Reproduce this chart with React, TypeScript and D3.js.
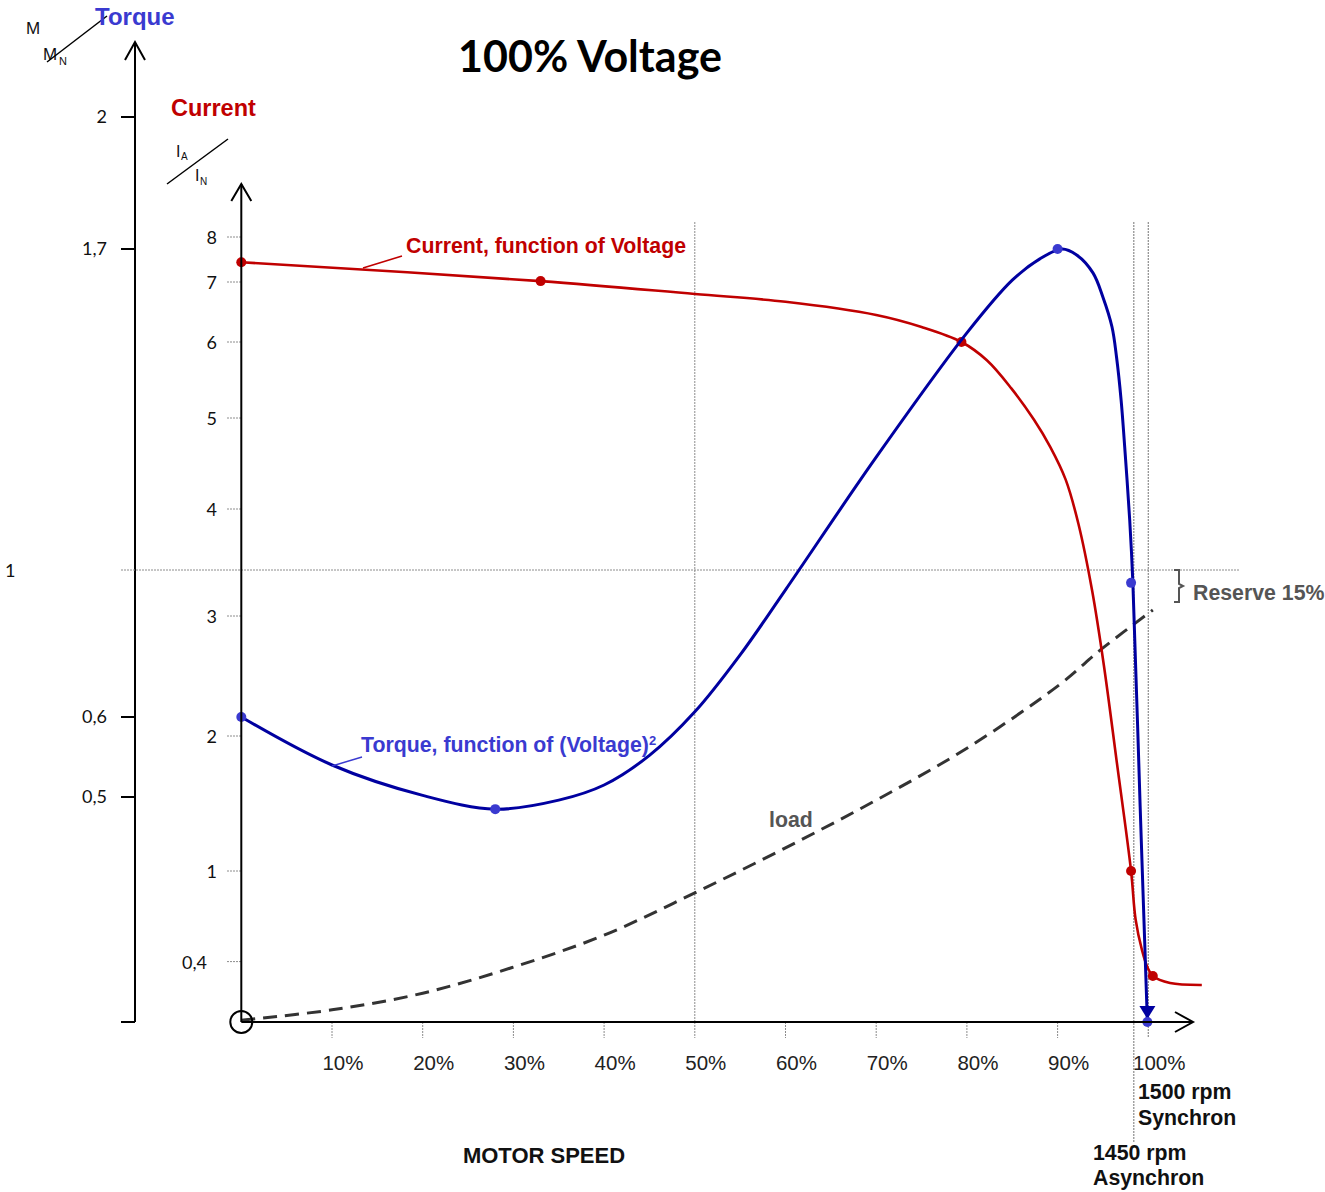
import React from "react";
import * as d3 from "d3";

// ---------- data ----------
const speedTicks = [10, 20, 30, 40, 50, 60, 70, 80, 90, 100];
const currentTicks = [0.4, 1, 2, 3, 4, 5, 6, 7, 8];
const currentTickLabels = ["0,4", "1", "2", "3", "4", "5", "6", "7", "8"];
const torqueTickValues = [0, 0.5, 0.6, 1.7, 2];
const torqueTickLabels = ["", "0,5", "0,6", "1,7", "2"];
const ratedTorque = 1;

const torqueSpeed = [0, 10, 20, 28, 35, 40, 45, 50, 55, 60, 70, 80, 85, 88, 90.5, 92.1, 93.9, 95.0, 96.0, 96.5, 97.0, 97.5, 97.95, 98.3, 99.1, 99.9];
const torqueValue = [0.6, 0.54, 0.502, 0.473, 0.493, 0.515, 0.552, 0.614, 0.769, 0.946, 1.246, 1.517, 1.632, 1.678, 1.7, 1.687, 1.648, 1.595, 1.53, 1.464, 1.371, 1.24, 1.109, 0.965, 0.48, 0];
const torqueDotSpeed = [0, 28, 90, 98.1, 99.9];
const torqueDotValue = [0.6, 0.473, 1.7, 0.965, 0];

const currentSpeed = [0, 33, 50, 60, 70, 75, 79.4, 82.2, 84.9, 87.4, 89.2, 90.9, 92.3, 93.8, 95.1, 96.5, 98.1, 98.6, 99.3, 99.9, 100.5, 102.4, 105.9];
const currentValue = [7.44, 7.02, 6.8, 6.67, 6.45, 6.25, 6.0, 5.76, 5.39, 4.98, 4.68, 4.32, 3.86, 3.24, 2.59, 1.82, 1.0, 0.68, 0.477, 0.364, 0.305, 0.258, 0.245];
const currentDotSpeed = [0, 33, 79.4, 98.1, 100.5];
const currentDotValue = [7.44, 7.02, 6.0, 1.0, 0.305];

const loadSpeed = [0, 10, 20, 30, 40, 50, 60, 70, 80, 90, 95, 100.5];
const loadValue = [0.004, 0.027, 0.064, 0.122, 0.193, 0.287, 0.387, 0.493, 0.561, 0.684, 0.788, 0.891];

const midSpeed = 50;
const asyncSpeed = 98.4;
const syncSpeed = 100;

// ---------- styles ----------
const RED = "#c00000";
const BLUE_LINE = "#0000a0";
const BLUE_TXT = "#3a3ad0";
const GRAY_TXT = "#555555";
const GRID = "#8c8c8c";
const NUM_FONT = "Lato, 'Open Sans', sans-serif";
const ARIAL = "'Liberation Sans', Arial, sans-serif";

export default function App() {
  const W = 1325, H = 1192;
  const x = d3.scaleLinear().domain([0, 100]).range([241.3, 1148.3]);
  const yC = d3.scaleLinear()
    .domain([0, 1, 2, 3, 4, 5, 6, 7, 8])
    .range([1022, 871, 736, 616, 509, 418, 342, 282, 237]);
  const yT = d3.scaleLinear()
    .domain([0, 0.5, 0.6, 1, 1.7, 2])
    .range([1022, 797, 717, 570, 249, 117]);

  const torquePts: [number, number][] = torqueSpeed.map((s, i) => [x(s), yT(torqueValue[i])]);
  const currentPts: [number, number][] = currentSpeed.map((s, i) => [x(s), yC(currentValue[i])]);
  const loadPts: [number, number][] = loadSpeed.map((s, i) => [x(s), yT(loadValue[i])]);

  const line = d3.line().curve(d3.curveCatmullRom.alpha(0.5));
  const lineLoad = d3.line().curve(d3.curveCatmullRom);

  const x0 = x(0);
  const yBase = yC(0);
  const outerX = 135;
  const gridTop = 222;

  const endTx = x(torqueSpeed[torqueSpeed.length - 1]);
  const endTy = yT(torqueValue[torqueValue.length - 1]);

  return (
    <svg width={W} height={H} style={{ position: "absolute", left: 0, top: 0, background: "#fff" }}>
      {/* title */}
      <text x={590} y={72} textAnchor="middle" fontFamily={NUM_FONT} fontWeight="bold" fontSize={43} fill="#000">100% Voltage</text>

      {/* outer torque axis header */}
      <text x={26} y={34} fontFamily={ARIAL} fontSize={17} fill="#111">M</text>
      <text x={43} y={60} fontFamily={ARIAL} fontSize={17} fill="#111">M</text>
      <text x={59} y={65} fontFamily={ARIAL} fontSize={11} fill="#111">N</text>
      <line x1={47} y1={62} x2={107} y2={16} stroke="#000" strokeWidth={1.5} />
      <text x={95} y={25} fontFamily={ARIAL} fontWeight="bold" fontSize={24} fill={BLUE_TXT}>Torque</text>

      {/* current axis header */}
      <text x={171} y={116} fontFamily={ARIAL} fontWeight="bold" fontSize={23.5} fill={RED}>Current</text>
      <text x={176} y={157} fontFamily={ARIAL} fontSize={16} fill="#111">I</text>
      <text x={181} y={160} fontFamily={ARIAL} fontSize={10} fill="#111">A</text>
      <text x={195} y={181} fontFamily={ARIAL} fontSize={16} fill="#111">I</text>
      <text x={200} y={185} fontFamily={ARIAL} fontSize={10} fill="#111">N</text>
      <line x1={167} y1={184} x2={228} y2={139} stroke="#000" strokeWidth={1.5} />

      {/* outer torque axis */}
      <line x1={outerX} y1={yT(0)} x2={outerX} y2={42} stroke="#000" strokeWidth={2} />
      <path d={`M${outerX - 10},${60} L${outerX},${42} L${outerX + 10},${60}`} fill="none" stroke="#000" strokeWidth={2} />
      {torqueTickValues.map((v, i) => (
        <g key={"tt" + i}>
          <line x1={121} x2={outerX} y1={yT(v)} y2={yT(v)} stroke="#000" strokeWidth={2} />
          <text x={107} y={yT(v) + 6} textAnchor="end" fontFamily={NUM_FONT} fontSize={18} fill="#111">{torqueTickLabels[i]}</text>
        </g>
      ))}
      <text x={5} y={yT(ratedTorque) + 7} fontFamily={NUM_FONT} fontSize={18} fill="#111">1</text>

      {/* grid lines */}
      <line x1={121} x2={1240} y1={yT(ratedTorque)} y2={yT(ratedTorque)} stroke={GRID} strokeWidth={1} strokeDasharray="2,1" />
      <line x1={x(midSpeed)} x2={x(midSpeed)} y1={gridTop} y2={yBase} stroke={GRID} strokeWidth={1} strokeDasharray="2,1" />
      <line x1={x(asyncSpeed)} x2={x(asyncSpeed)} y1={gridTop} y2={1143} stroke={GRID} strokeWidth={1.2} strokeDasharray="2,1" />
      <line x1={x(syncSpeed)} x2={x(syncSpeed)} y1={gridTop} y2={1038} stroke={GRID} strokeWidth={1.2} strokeDasharray="2,1" />

      {/* current axis ticks */}
      {currentTicks.map((v, i) => (
        <g key={"ct" + i}>
          <line x1={227} x2={x0} y1={yC(v)} y2={yC(v)} stroke={GRID} strokeWidth={1} strokeDasharray="2,1" />
          <text x={v < 1 ? 207 : 217} y={yC(v) + 7} textAnchor="end" fontFamily={NUM_FONT} fontSize={18} fill="#111">{currentTickLabels[i]}</text>
        </g>
      ))}

      {/* speed axis ticks */}
      {speedTicks.map((v) => (
        <g key={"st" + v}>
          {v < 100 && <line x1={x(v)} x2={x(v)} y1={yBase} y2={1038} stroke={GRID} strokeWidth={1} strokeDasharray="2,1" />}
          <text x={x(v) + 11} y={1070} textAnchor="middle" fontFamily={ARIAL} fontSize={20.5} fill="#222">{v}%</text>
        </g>
      ))}

      {/* load curve */}
      <path d={lineLoad(loadPts) || ""} fill="none" stroke="#333" strokeWidth={3} strokeDasharray="14,8" />

      {/* current curve */}
      <path d={line(currentPts) || ""} fill="none" stroke={RED} strokeWidth={2.6} />
      {currentDotSpeed.map((s, i) => (
        <circle key={"cd" + i} cx={x(s)} cy={yC(currentDotValue[i])} r={5} fill={RED} />
      ))}

      {/* torque curve */}
      <path d={line(torquePts) || ""} fill="none" stroke={BLUE_LINE} strokeWidth={3} />
      <path d={`M${endTx - 8},${endTy - 16} L${endTx + 8},${endTy - 16} L${endTx},${endTy - 3} Z`} fill={BLUE_LINE} />
      {torqueDotSpeed.map((s, i) => (
        <circle key={"td" + i} cx={x(s)} cy={yT(torqueDotValue[i])} r={5} fill={BLUE_TXT} />
      ))}

      {/* inner current axis and speed axis */}
      <line x1={x0} y1={yBase} x2={x0} y2={184} stroke="#000" strokeWidth={2} />
      <path d={`M${x0 - 10},${201} L${x0},${184} L${x0 + 10},${201}`} fill="none" stroke="#000" strokeWidth={2} />
      <line x1={x0} y1={yBase} x2={1193} y2={yBase} stroke="#000" strokeWidth={2} />
      <path d={`M${1175},${yBase - 10} L${1193},${yBase} L${1175},${yBase + 10}`} fill="none" stroke="#000" strokeWidth={2} />
      <circle cx={x0} cy={yBase} r={11} fill="none" stroke="#000" strokeWidth={2} />

      {/* annotations */}
      <line x1={363} y1={268} x2={402} y2={256} stroke={RED} strokeWidth={1.5} />
      <text x={406} y={253} fontFamily={ARIAL} fontWeight="bold" fontSize={21.3} fill={RED}>Current, function of Voltage</text>

      <line x1={332} y1={766} x2={362} y2={757} stroke={BLUE_TXT} strokeWidth={1.5} />
      <text x={361} y={752} fontFamily={ARIAL} fontWeight="bold" fontSize={21.3} fill={BLUE_TXT}>Torque, function of (Voltage)<tspan fontSize={13} dy={-7}>2</tspan></text>

      <text x={769} y={827} fontFamily={ARIAL} fontWeight="bold" fontSize={21.3} fill={GRAY_TXT}>load</text>

      <path d="M1174,570 L1179,570 L1179,584 L1183,586 L1179,588 L1179,602 L1174,602" fill="none" stroke={GRAY_TXT} strokeWidth={2} />
      <text x={1193} y={600} fontFamily={ARIAL} fontWeight="bold" fontSize={21.3} fill={GRAY_TXT}>Reserve 15%</text>

      <text x={1138} y={1099} fontFamily={ARIAL} fontWeight="bold" fontSize={21.3} fill="#111">1500 rpm</text>
      <text x={1138} y={1125} fontFamily={ARIAL} fontWeight="bold" fontSize={21.3} fill="#111">Synchron</text>
      <text x={1093} y={1160} fontFamily={ARIAL} fontWeight="bold" fontSize={21.3} fill="#111">1450 rpm</text>
      <text x={1093} y={1185} fontFamily={ARIAL} fontWeight="bold" fontSize={21.3} fill="#111">Asynchron</text>

      <text x={544} y={1163} textAnchor="middle" fontFamily={ARIAL} fontWeight="bold" fontSize={22} fill="#111">MOTOR SPEED</text>
    </svg>
  );
}
